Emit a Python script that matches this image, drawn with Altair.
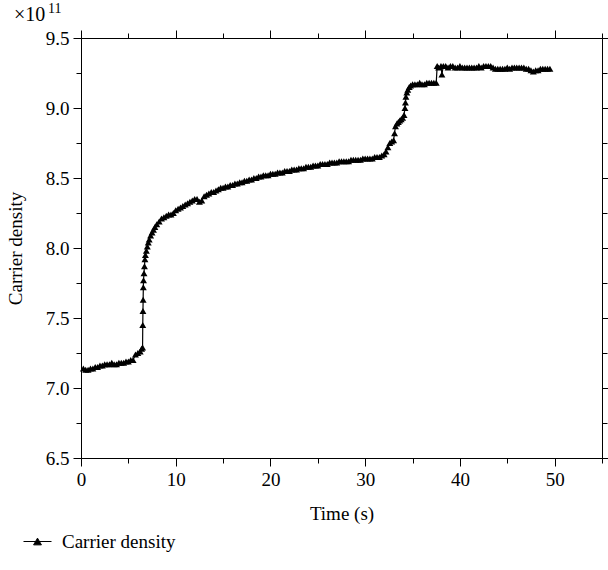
import altair as alt
import pandas as pd

FONT = "Liberation Serif"
SERIES = "Carrier density"
EXPONENT_BASE = ["×10"]
EXPONENT_POWER = ["11"]

# ---- data (time in s, carrier density in units of 1e11) ----
time_a = [0.25, 0.5, 0.75, 1.0, 1.25, 1.5, 1.75, 2.0, 2.25, 2.5, 2.75, 3.0, 3.25,
          3.5, 3.75, 4.0, 4.25, 4.5, 4.75, 5.0, 5.25, 5.5, 5.75, 6.0, 6.25]
dens_a = [7.14, 7.13, 7.13, 7.14, 7.14, 7.15, 7.15, 7.16, 7.16, 7.17, 7.17, 7.17, 7.18,
          7.17, 7.17, 7.18, 7.18, 7.18, 7.19, 7.19, 7.20, 7.20, 7.24, 7.25, 7.26]

time_b = [6.4, 6.5, 6.52, 6.54, 6.56, 6.58, 6.6, 6.65, 6.7, 6.75, 6.8, 6.9, 7.0, 7.1,
          7.2, 7.35, 7.5, 7.65, 7.8, 8.0, 8.25, 8.5, 8.75, 9.0, 9.25, 9.5, 9.75, 10.0,
          10.25, 10.5, 10.75, 11.0, 11.25, 11.5, 11.75, 12.0, 12.25, 12.5, 12.75, 13.0,
          13.25, 13.5, 13.75, 14.0, 14.25, 14.5, 14.75, 15.0]
dens_b = [7.28, 7.29, 7.45, 7.55, 7.63, 7.72, 7.77, 7.82, 7.87, 7.92, 7.95, 7.98, 8.01, 8.04,
          8.06, 8.09, 8.11, 8.13, 8.15, 8.17, 8.19, 8.21, 8.22, 8.23, 8.24, 8.24, 8.25, 8.27,
          8.28, 8.29, 8.30, 8.31, 8.32, 8.33, 8.34, 8.35, 8.35, 8.33, 8.34, 8.37,
          8.38, 8.39, 8.40, 8.40, 8.41, 8.42, 8.43, 8.43]

time_c = [15.25, 15.5, 15.75, 16.0, 16.25, 16.5, 16.75, 17.0, 17.25, 17.5, 17.75, 18.0,
          18.25, 18.5, 18.75, 19.0, 19.25, 19.5, 19.75, 20.0, 20.25, 20.5, 20.75, 21.0,
          21.25, 21.5, 21.75, 22.0, 22.25, 22.5, 22.75, 23.0, 23.25, 23.5, 23.75, 24.0,
          24.25, 24.5, 24.75, 25.0, 25.25, 25.5, 25.75, 26.0, 26.25, 26.5, 26.75, 27.0,
          27.25, 27.5, 27.75, 28.0, 28.25, 28.5, 28.75, 29.0, 29.25, 29.5, 29.75, 30.0,
          30.25, 30.5, 30.75, 31.0, 31.25, 31.5, 31.75, 32.0]
dens_c = [8.44, 8.44, 8.45, 8.45, 8.46, 8.46, 8.47, 8.47, 8.48, 8.48, 8.49, 8.49,
          8.50, 8.50, 8.51, 8.51, 8.52, 8.52, 8.52, 8.53, 8.53, 8.53, 8.54, 8.54,
          8.54, 8.55, 8.55, 8.55, 8.56, 8.56, 8.56, 8.57, 8.57, 8.57, 8.58, 8.58,
          8.58, 8.59, 8.59, 8.59, 8.60, 8.60, 8.60, 8.60, 8.61, 8.61, 8.61, 8.61,
          8.62, 8.62, 8.62, 8.62, 8.62, 8.63, 8.63, 8.63, 8.63, 8.63, 8.64, 8.64,
          8.64, 8.64, 8.64, 8.65, 8.65, 8.65, 8.66, 8.67]

time_d = [32.2, 32.4, 32.6, 32.8, 33.0, 33.1, 33.2, 33.35, 33.5, 33.65, 33.8, 33.95,
          34.1, 34.2, 34.25, 34.3, 34.4, 34.5, 34.65, 34.8, 35.0, 35.25, 35.5, 35.75,
          36.0, 36.25, 36.5, 36.75, 37.0, 37.25, 37.5, 37.6]
dens_d = [8.69, 8.72, 8.75, 8.76, 8.77, 8.82, 8.87, 8.89, 8.90, 8.91, 8.92, 8.93,
          8.95, 9.00, 9.04, 9.08, 9.11, 9.13, 9.15, 9.16, 9.17, 9.17, 9.17, 9.18,
          9.17, 9.17, 9.18, 9.18, 9.18, 9.18, 9.18, 9.30]

time_e = [37.75, 38.0, 38.1, 38.25, 38.5, 38.75, 39.0, 39.25, 39.5, 39.75, 40.0, 40.25,
          40.5, 40.75, 41.0, 41.25, 41.5, 41.75, 42.0, 42.25, 42.5, 42.75, 43.0, 43.25,
          43.5, 43.75, 44.0, 44.25, 44.5, 44.75, 45.0, 45.25, 45.5, 45.75, 46.0, 46.25,
          46.5, 46.75, 47.0, 47.25, 47.5, 47.75, 48.0, 48.25, 48.5, 48.75, 49.0, 49.25, 49.5]
dens_e = [9.29, 9.30, 9.24, 9.30, 9.30, 9.29, 9.30, 9.30, 9.29, 9.29, 9.30, 9.29,
          9.29, 9.29, 9.29, 9.29, 9.29, 9.29, 9.30, 9.29, 9.30, 9.30, 9.30, 9.30,
          9.29, 9.28, 9.28, 9.28, 9.28, 9.28, 9.29, 9.28, 9.29, 9.29, 9.29, 9.29,
          9.29, 9.29, 9.28, 9.28, 9.27, 9.26, 9.27, 9.27, 9.28, 9.28, 9.28, 9.28, 9.28]

time_s = time_a + time_b + time_c + time_d + time_e
density = dens_a + dens_b + dens_c + dens_d + dens_e

x_ticks = [0, 5, 10, 15, 20, 25, 30, 35, 40, 45, 50, 55]
y_ticks = [6.5, 6.75, 7.0, 7.25, 7.5, 7.75, 8.0, 8.25, 8.5, 8.75, 9.0, 9.25, 9.5]
x_domain = [0, 55]
y_domain = [6.5, 9.5]

df = pd.DataFrame({"time": time_s, "density": density, "series": SERIES})

x_major = "datum.value % 10 === 0"
y_major = "abs(datum.value * 2 - round(datum.value * 2)) < 0.001"
x_tick_size = {"condition": {"test": x_major, "value": 8}, "value": 5}
y_tick_size = {"condition": {"test": y_major, "value": 8}, "value": 5}

xscale = alt.Scale(domain=x_domain, nice=False, zero=False)
yscale = alt.Scale(domain=y_domain, nice=False, zero=False)

common_axis = dict(domainColor="black", tickColor="black", domainWidth=1, tickWidth=1,
                   grid=False, labelFont=FONT, labelFontSize=19, labelColor="black",
                   titleFont=FONT, titleFontSize=19, titleColor="black",
                   titleFontWeight="normal", labelOverlap=False, labelFlush=False)

line = alt.Chart(df).mark_line(
    strokeWidth=1.2,
    point=alt.OverlayMarkDef(shape="triangle-up", filled=True, size=48, color="black", opacity=1),
).encode(
    x=alt.X("time:Q", scale=xscale,
            axis=alt.Axis(orient="bottom", values=x_ticks, title="Time (s)",
                          labelExpr=f"{x_major} ? datum.label : ''",
                          tickSize=x_tick_size, labelPadding=4, titlePadding=15,
                          **common_axis)),
    y=alt.Y("density:Q", scale=yscale,
            axis=alt.Axis(orient="left", values=y_ticks, title="Carrier density",
                          labelExpr=f"{y_major} ? format(datum.value, '.1f') : ''",
                          tickSize=y_tick_size, labelPadding=4, titlePadding=20,
                          **common_axis)),
    color=alt.Color("series:N", scale=alt.Scale(range=["black"]),
                    legend=alt.Legend(title=None, orient="none", legendX=-58, legendY=489,
                                      symbolType="M-1,0H1M-0.28,0.24L0,-0.24L0.28,0.24Z",
                                      symbolSize=784, symbolStrokeWidth=1,
                                      symbolFillColor="black", symbolStrokeColor="black",
                                      labelFont=FONT, labelFontSize=19, labelColor="black",
                                      labelOffset=10)),
)

mirror = alt.Chart(df).mark_point(opacity=0).encode(
    x=alt.X("time:Q", scale=xscale,
            axis=alt.Axis(orient="top", values=x_ticks, title=None, labels=False,
                          tickSize=x_tick_size, **common_axis)),
    y=alt.Y("density:Q", scale=yscale,
            axis=alt.Axis(orient="right", values=y_ticks, title=None, labels=False,
                          tickSize=y_tick_size, **common_axis)),
)

exp_base = alt.Chart(pd.DataFrame({"label": EXPONENT_BASE})).mark_text(
    font=FONT, fontSize=20, color="black", align="left", baseline="alphabetic"
).encode(text="label:N", x=alt.value(-67), y=alt.value(-17))

exp_power = alt.Chart(pd.DataFrame({"label": EXPONENT_POWER})).mark_text(
    font=FONT, fontSize=14, color="black", align="left", baseline="alphabetic"
).encode(text="label:N", x=alt.value(-33), y=alt.value(-25))

chart = alt.layer(line, mirror, exp_base, exp_power).resolve_axis(
    x="independent", y="independent"
).properties(
    width=521, height=420,
    autosize=alt.AutoSizeParams(type="none"),
    padding={"left": 81, "top": 38, "right": 6, "bottom": 112},
).configure_view(stroke=None).configure(background="white")

chart.save("out.html", embed_options={"renderer": "svg", "actions": False})
